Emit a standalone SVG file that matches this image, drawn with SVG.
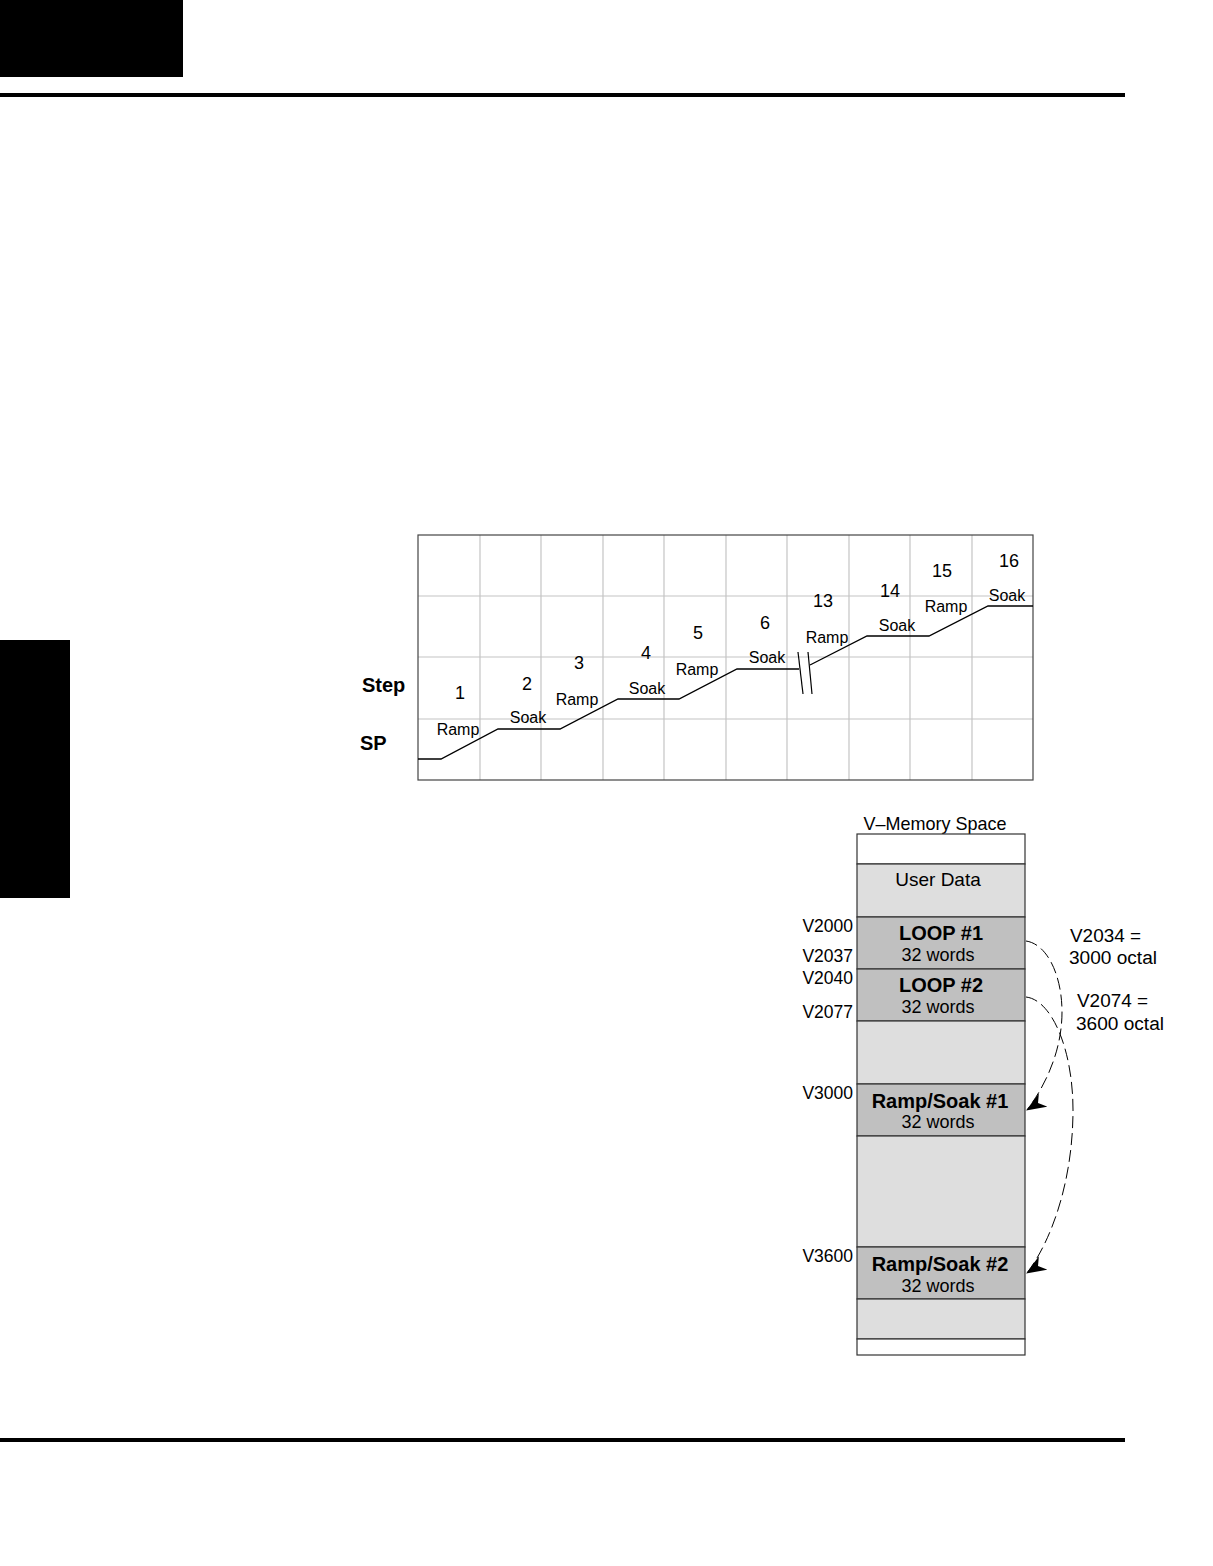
<svg xmlns="http://www.w3.org/2000/svg" width="1213" height="1566" viewBox="0 0 1213 1566">
<style>
text{font-family:"Liberation Sans",Arial,sans-serif;fill:#000}
.num{font-size:18px;text-anchor:middle}
.lbl{font-size:16px;text-anchor:middle}
.ax{font-size:20px;font-weight:bold}
.grid{stroke:#c4c4c4;stroke-width:1.2;fill:none}
.mem{font-size:18px;text-anchor:middle}
.hdr{font-size:19px;text-anchor:middle}
.title{font-size:20px;font-weight:bold;text-anchor:middle}
.addr{font-size:17.5px;text-anchor:end}
.note{font-size:18px}
.sec{stroke:#333;stroke-width:1.2}
.lt{fill:#dedede}
.dk{fill:#c0c0c0}
.wh{fill:#fff}
.dash{fill:none;stroke:#000;stroke-width:1;stroke-dasharray:12,5}
</style>
<defs>
<marker id="ah" viewBox="0 0 20 16" refX="19" refY="8" markerWidth="20" markerHeight="16" markerUnits="userSpaceOnUse" orient="148">
<path d="M0,0 L20,8 L0,16 L6,8 Z" fill="#000"/>
</marker>
</defs>
<rect width="1213" height="1566" fill="#fff"/>
<g id="page-frame">
<rect x="0" y="0" width="183" height="77" fill="#000"/>
<rect x="0" y="93" width="1125" height="4" fill="#000"/>
<rect x="0" y="640" width="70" height="258" fill="#000"/>
<rect x="0" y="1438" width="1125" height="4" fill="#000"/>
</g>
<g id="chart">
<g class="grid">
<line x1="480" y1="535" x2="480" y2="780"/>
<line x1="541" y1="535" x2="541" y2="780"/>
<line x1="603" y1="535" x2="603" y2="780"/>
<line x1="664" y1="535" x2="664" y2="780"/>
<line x1="726" y1="535" x2="726" y2="780"/>
<line x1="787" y1="535" x2="787" y2="780"/>
<line x1="849" y1="535" x2="849" y2="780"/>
<line x1="910" y1="535" x2="910" y2="780"/>
<line x1="972" y1="535" x2="972" y2="780"/>
<line x1="418" y1="596" x2="1033" y2="596"/>
<line x1="418" y1="657" x2="1033" y2="657"/>
<line x1="418" y1="719" x2="1033" y2="719"/>
</g>
<rect x="418" y="535" width="615" height="245" fill="none" stroke="#444" stroke-width="1.2"/>
<polyline points="418,759 441,759 498,729 560,729 618,699 679,699 737,669 799,669" fill="none" stroke="#000" stroke-width="1.3"/>
<polyline points="810,665 867,636 929,636 988,606 1033,606" fill="none" stroke="#000" stroke-width="1.3"/>
<line x1="798" y1="652" x2="803" y2="694" stroke="#000" stroke-width="1.2"/>
<line x1="808" y1="652" x2="812" y2="694" stroke="#000" stroke-width="1.2"/>
<text class="ax" x="362" y="692">Step</text>
<text class="ax" x="360" y="750">SP</text>
<text class="num" x="460" y="699">1</text>
<text class="num" x="527" y="690">2</text>
<text class="num" x="579" y="669">3</text>
<text class="num" x="646" y="659">4</text>
<text class="num" x="698" y="639">5</text>
<text class="num" x="765" y="629">6</text>
<text class="num" x="823" y="607">13</text>
<text class="num" x="890" y="597">14</text>
<text class="num" x="942" y="577">15</text>
<text class="num" x="1009" y="567">16</text>
<text class="lbl" x="458" y="735">Ramp</text>
<text class="lbl" x="528" y="723">Soak</text>
<text class="lbl" x="577" y="705">Ramp</text>
<text class="lbl" x="647" y="694">Soak</text>
<text class="lbl" x="697" y="675">Ramp</text>
<text class="lbl" x="767" y="663">Soak</text>
<text class="lbl" x="827" y="643">Ramp</text>
<text class="lbl" x="897" y="631">Soak</text>
<text class="lbl" x="946" y="612">Ramp</text>
<text class="lbl" x="1007" y="601">Soak</text>
</g>
<g id="memory">
<text class="hdr" x="935" y="830" textLength="143" lengthAdjust="spacingAndGlyphs">V–Memory Space</text>
<g id="sec-top"><rect class="sec wh" x="857" y="834" width="168" height="30"/></g>
<g id="sec-user"><rect class="sec lt" x="857" y="864" width="168" height="53"/><text class="hdr" x="938" y="886">User Data</text></g>
<g id="sec-loop1"><rect class="sec dk" x="857" y="917" width="168" height="52"/><text class="title" x="941" y="940">LOOP #1</text><text class="mem" x="938" y="961">32 words</text></g>
<g id="sec-loop2"><rect class="sec dk" x="857" y="969" width="168" height="52"/><text class="title" x="941" y="992">LOOP #2</text><text class="mem" x="938" y="1013">32 words</text></g>
<g id="sec-gap1"><rect class="sec lt" x="857" y="1021" width="168" height="63"/></g>
<g id="sec-rs1"><rect class="sec dk" x="857" y="1084" width="168" height="52"/><text class="title" x="940" y="1108">Ramp/Soak #1</text><text class="mem" x="938" y="1128">32 words</text></g>
<g id="sec-gap2"><rect class="sec lt" x="857" y="1136" width="168" height="111"/></g>
<g id="sec-rs2"><rect class="sec dk" x="857" y="1247" width="168" height="52"/><text class="title" x="940" y="1271">Ramp/Soak #2</text><text class="mem" x="938" y="1292">32 words</text></g>
<g id="sec-gap3"><rect class="sec lt" x="857" y="1299" width="168" height="40"/></g>
<g id="sec-bottom"><rect class="sec wh" x="857" y="1339" width="168" height="16"/></g>
<text class="addr" x="853" y="932">V2000</text>
<text class="addr" x="853" y="962">V2037</text>
<text class="addr" x="853" y="984">V2040</text>
<text class="addr" x="853" y="1018">V2077</text>
<text class="addr" x="853" y="1099">V3000</text>
<text class="addr" x="853" y="1262">V3600</text>
<text class="note" x="1070" y="942" textLength="71" lengthAdjust="spacingAndGlyphs">V2034 =</text>
<text class="note" x="1069" y="964" textLength="88" lengthAdjust="spacingAndGlyphs">3000 octal</text>
<text class="note" x="1077" y="1007" textLength="71" lengthAdjust="spacingAndGlyphs">V2074 =</text>
<text class="note" x="1076" y="1030" textLength="88" lengthAdjust="spacingAndGlyphs">3600 octal</text>
</g>
<g id="connectors">
<path class="dash" marker-end="url(#ah)" d="M1026,941 C1047,944 1062,975 1062,1012 C1062,1050 1046,1085 1027,1110"/>
<path class="dash" marker-end="url(#ah)" d="M1026,997 C1052,1000 1073,1050 1073,1110 C1073,1180 1052,1240 1027,1273"/>
</g>
</svg>
